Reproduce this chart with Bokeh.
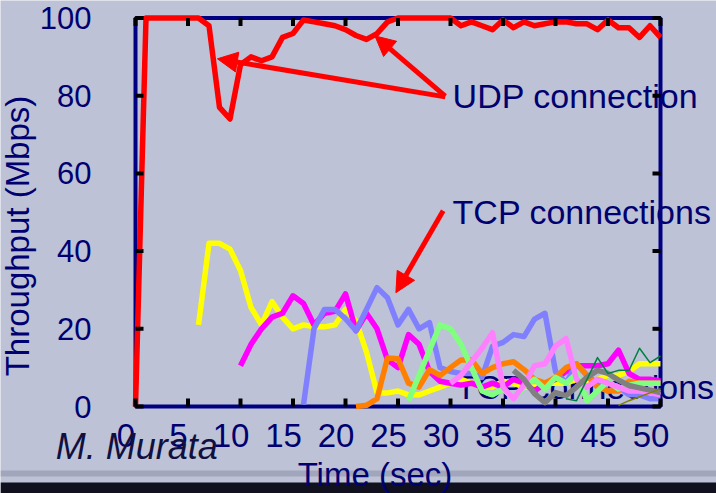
from bokeh.plotting import figure
from bokeh.models import Label, Arrow, NormalHead, LinearAxis, FixedTicker, Range1d, BoxAnnotation
from bokeh.embed import file_html
from bokeh.resources import INLINE

# ---------------- data ----------------
x_ticks = [0, 5, 10, 15, 20, 25, 30, 35, 40, 45, 50]
y_ticks = [0, 20, 40, 60, 80, 100]

udp_start = 0
udp = [0, 100, 100, 100, 100, 100, 100, 98, 77, 74, 88, 90, 89, 90, 95, 96, 99.5, 99,
       98.5, 98, 97, 95.5, 94.5, 96, 99, 100, 100, 100, 100, 100, 100, 98, 99, 98, 97,
       99.5, 97.5, 99, 98, 98.5, 99, 99, 98.5, 98.5, 97, 99.5, 97.5, 97.5, 95, 98, 95]

tcp_yellow_start = 6
tcp_yellow = [21, 42, 42, 40.5, 35, 25.5, 21, 27, 23, 20, 21, 20.5, 20.5, 21, 25, 22, 14,
              3.5, 3.5, 4, 3, 3, 4, 5, 6, 7, 6, 5, 5, 6.5, 6, 5, 5, 6, 6, 6, 7, 6, 7, 8,
              8, 9, 11, 11, 11]

tcp_magenta_start = 10
tcp_magenta = [10.5, 16, 20, 23, 24, 28.5, 26.5, 21, 24, 24.5, 29, 19.5, 24, 20, 12, 10,
               18.5, 16, 9, 6.5, 6, 5.5, 6, 5, 6, 5, 7, 6, 4, 6, 7, 9, 10.5, 10.5, 10.5,
               11, 14.5, 8.5, 7, 7, 6.5]

tcp_blue_start = 16
tcp_blue = [0.5, 20, 25, 25, 22.6, 19.5, 25, 30.6, 28, 21, 25, 20, 21.6, 10, 9, 8.5, 8.5,
            7.5, 15.5, 16.5, 18.5, 18, 22.5, 24, 9, 6, 11, 8, 6, 4, 5, 3, 3, 2, 2]

tcp_orange_start = 21
tcp_orange = [0, 0.3, 2, 12.5, 12.3, 6, 5, 9.5, 8, 10, 12, 12, 8.5, 10, 11, 11.5, 9.5, 7,
              6, 7.5, 10, 11, 8, 5, 4, 4, 6.5, 6, 6, 6]

tcp_green_start = 26
tcp_green = [1.5, 8, 14.5, 21, 20, 16, 10, 4, 3, 4.5, 2, 5, 7, 4.5, 7.5, 6, 8.5, 1.5, 4,
             6.5, 4.5, 5.5, 6, 6, 6]

tcp_pink_start = 30
tcp_pink = [6, 8, 11.5, 15, 19, 5, 2, 5.5, 10.5, 11, 15.5, 17.5, 7, 5, 7, 6, 5, 4, 4, 3.5, 3]

tcp_gray_start = 36
tcp_gray = [9.3, 7, 3.3, 1, 3.6, 2.8, 5, 7.5, 9.3, 8.5, 6.8, 5.4, 4.8, 4.2, 3.6]

tcp_dkgreen_start = 41
tcp_dkgreen = [2, 1.5, 7, 12.6, 8.5, 9.3, 9.3, 15, 11.3, 13]

tcp_olive_start = 46
tcp_olive = [0.3, 1.5, 2.5, 3.5, 4.6]

# ---------------- styling ----------------
BG = "#BDC2D6"
NAVY = "#000070"
FONT = "Liberation Sans"
W, H = 716, 493
# plot box (pixels inside the canvas)
BOX_L, BOX_R, BOX_T, BOX_B = 135, 660, 17.5, 406
XMIN, XMAX, YMIN, YMAX = 0, 50, 0, 100
xpx = (BOX_R - BOX_L) / (XMAX - XMIN)
ypx = (BOX_B - BOX_T) / (YMAX - YMIN)
TICK_PX = 8            # inward tick length
XLABEL_SHIFT_PX = 9.5  # x tick labels sit a little left of their ticks

p = figure(width=W, height=H,
           x_range=Range1d(XMIN - BOX_L / xpx, XMAX + (W - BOX_R) / xpx),
           y_range=Range1d(YMIN - (H - BOX_B) / ypx, YMAX + BOX_T / ypx),
           x_axis_location=None, y_axis_location=None,
           output_backend="svg", toolbar_location=None,
           min_border=0, min_border_left=0, min_border_right=0,
           min_border_top=0, min_border_bottom=0)
p.background_fill_color = BG
p.border_fill_color = BG
p.outline_line_color = None
p.grid.visible = False


def make_axis(ticks, loc):
    return LinearAxis(ticker=FixedTicker(ticks=ticks), fixed_location=loc,
                      major_tick_line_color=None, minor_tick_line_color=None,
                      axis_line_color=None, major_label_text_font=FONT,
                      major_label_text_color=NAVY)


# dark strip at the bottom of the slide
p.add_layout(BoxAnnotation(top=(BOX_B - 470) / ypx, bottom=(BOX_B - 476) / ypx,
                           fill_color="#A2A6BC", fill_alpha=1, line_color=None,
                           level="underlay"))
p.add_layout(BoxAnnotation(top=(BOX_B - 482) / ypx, fill_color="#10101E", fill_alpha=1,
                           line_color=None, level="underlay"))

# texts lying under the frame and traces
for txt, x, y in (("TCP connections", 30.5, 5.1), ("UDP connection", 30.2, 80.0),
                  ("TCP connections", 30.2, 50.1)):
    p.add_layout(Label(x=x, y=y, text=txt, text_font=FONT, text_font_size="34px",
                       text_color=NAVY, text_baseline="middle", level="underlay"))

# navy plot frame
p.add_layout(BoxAnnotation(left=XMIN, right=XMAX, bottom=YMIN, top=YMAX,
                           fill_alpha=0, line_color="#000080", line_alpha=1, line_width=4,
                           level="underlay"))

series = [
    (tcp_yellow_start, tcp_yellow, "#FFFF00", 5.5),
    (tcp_magenta_start, tcp_magenta, "#FF00FF", 5.5),
    (tcp_blue_start, tcp_blue, "#8080FF", 5.5),
    (tcp_orange_start, tcp_orange, "#FF8000", 5.5),
    (tcp_green_start, tcp_green, "#80FF80", 5.5),
    (tcp_pink_start, tcp_pink, "#FF80FF", 5.5),
    (tcp_gray_start, tcp_gray, "#808080", 5.5),
    (tcp_dkgreen_start, tcp_dkgreen, "#008040", 1.5),
    (tcp_olive_start, tcp_olive, "#808000", 1.5),
    (udp_start, udp, "#FF0000", 5.5),
]
for start, vals, color, w in series:
    xs = list(range(start, start + len(vals)))
    p.line(xs, vals, line_color=color, line_width=w, line_join="round")

# small black inward ticks on all four sides
tx, ty = TICK_PX / xpx, TICK_PX / ypx
for yy in (YMIN + ty / 2, YMAX - ty / 2):
    p.rect(x=x_ticks, y=[yy] * len(x_ticks), width=4, width_units="screen",
           height=ty, fill_color="black", fill_alpha=1, line_color=None)
for xx in (XMIN + tx / 2, XMAX - tx / 2):
    p.rect(x=[xx] * len(y_ticks), y=y_ticks, width=tx, height=4, height_units="screen",
           fill_color="black", fill_alpha=1, line_color=None)

# x axis: labels drawn slightly left of the tick positions, as on the slide
shift = XLABEL_SHIFT_PX / xpx
label_pos = [round(t - shift, 4) for t in x_ticks]
xax = make_axis(label_pos, YMIN)
xax.major_label_overrides = {pos: str(t) for pos, t in zip(label_pos, x_ticks)}
xax.major_label_text_font_size = "33px"
xax.major_label_standoff = 11
xax.axis_label = "Time (sec)"
xax.axis_label_text_font = FONT
xax.axis_label_text_font_size = "33px"
xax.axis_label_text_font_style = "normal"
xax.axis_label_text_color = NAVY
xax.axis_label_standoff = 6
xax.bounds = (-3.5 - shift, XMAX)
p.add_layout(xax, "below")

yax = make_axis(y_ticks, XMIN)
yax.major_label_text_font_size = "31px"
yax.major_label_standoff = 38
yax.axis_label = "Throughput (Mbps)"
yax.axis_label_text_font = FONT
yax.axis_label_text_font_size = "33px"
yax.axis_label_text_font_style = "normal"
yax.axis_label_text_color = NAVY
yax.axis_label_standoff = 1
yax.bounds = (-12, YMAX)
p.add_layout(yax, "left")

for (xs, ys, xe, ye) in ((29.5, 79.7, 7.8, 89.5), (29.5, 79.9, 22.8, 95.4), (29.3, 50.4, 24.8, 29.3)):
    p.add_layout(Arrow(end=NormalHead(size=20, fill_color="#FF0000", line_color="#FF0000"),
                       x_start=xs, y_start=ys, x_end=xe, y_end=ye,
                       line_color="#FF0000", line_width=5))

p.add_layout(Label(x=-7.6, y=-10.2, text="M. Murata", text_font=FONT, text_font_size="36px",
                   text_font_style="italic", text_color="#101040", text_baseline="middle"))

open("out.html", "w").write(file_html(p, INLINE))
